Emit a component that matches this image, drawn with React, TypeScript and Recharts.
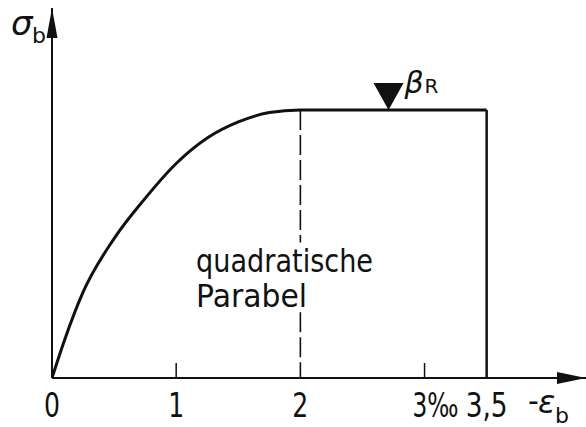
import React from 'react';
import { LineChart, Line, XAxis, YAxis, ReferenceLine, ReferenceDot } from 'recharts';

// Spannungs-Dehnungs-Linie (Parabel-Rechteck)
const STRAIN = [0, 0.1, 0.25, 0.5, 0.75, 1, 1.25, 1.5, 1.75, 2, 3.5];
const STRESS = [0, 0.14, 0.32, 0.52, 0.67, 0.8, 0.895, 0.955, 0.99, 1, 1];

const TICKS = [0, 1, 2, 3, 3.5];
const TICK_LABELS = ['0', '1', '2', '3‰', '3,5'];
const MARKED_TICKS = [1, 3];

const X_MAX = 4.3;
const Y_MAX = 1.38;
const EPS_PEAK = 2;
const EPS_ULT = 3.5;
const BETA_POS = 2.71;

const FONT = "'DejaVu Sans', 'Liberation Sans', sans-serif";
const INK = '#111';

const data = STRAIN.map((e, i) => ({ eps: e, sigma: STRESS[i] }));

// Schriftbreite an die schmale Normschrift der Vorlage anpassen
const labelWidth = (s: string) => (s.length === 1 ? 16 : s === '3‰' ? 46 : 42);

const AxisTick = (props: any) => {
  const { x, y, payload } = props;
  const idx = TICKS.indexOf(payload.value);
  const label = TICK_LABELS[idx];
  const isPermille = payload.value === 3;
  return (
    <g>
      {MARKED_TICKS.includes(payload.value) && (
        <line x1={x} x2={x} y1={y} y2={y - 15} stroke={INK} strokeWidth={1.5} />
      )}
      <text
        x={isPermille ? x - 12 : x}
        y={y + 39}
        textAnchor={isPermille ? 'start' : 'middle'}
        fontFamily={FONT}
        fontSize={33}
        fill={INK}
        textLength={labelWidth(label)}
        lengthAdjust="spacingAndGlyphs"
      >
        {label}
      </text>
    </g>
  );
};

const YArrow = (props: any) => {
  const { cx, cy } = props;
  return (
    <g>
      <polygon points={`${cx},${cy} ${cx - 5.5},${cy + 30} ${cx + 5.5},${cy + 30}`} fill={INK} />
      <text x={cx - 41} y={cy + 27} fontFamily={FONT} fontSize={34} fontStyle="italic" fill={INK}>
        σ
      </text>
      <text x={cx - 20} y={cy + 35} fontFamily={FONT} fontSize={22} fill={INK}>
        b
      </text>
    </g>
  );
};

const XArrow = (props: any) => {
  const { cx, cy } = props;
  return (
    <g>
      <polygon points={`${cx},${cy} ${cx - 29},${cy - 6} ${cx - 29},${cy + 6}`} fill={INK} />
      <text x={cx - 58} y={cy + 33} fontFamily={FONT} fontSize={30} fill={INK}>
        -
      </text>
      <text x={cx - 48} y={cy + 35} fontFamily={FONT} fontSize={32} fontStyle="italic" fill={INK}>
        ε
      </text>
      <text x={cx - 31} y={cy + 45} fontFamily={FONT} fontSize={22} fill={INK}>
        b
      </text>
    </g>
  );
};

const BetaMark = (props: any) => {
  const { cx, cy } = props;
  return (
    <g>
      <polygon points={`${cx},${cy} ${cx - 15},${cy - 27} ${cx + 15},${cy - 27}`} fill={INK} />
      <text x={cx + 16} y={cy - 17} fontFamily={FONT} fontSize={30} fontStyle="italic" fill={INK}>
        β
      </text>
      <text x={cx + 36} y={cy - 17} fontFamily={FONT} fontSize={20} fill={INK}>
        R
      </text>
    </g>
  );
};

const ParabelLabel = (props: any) => {
  const { cx, cy } = props;
  return (
    <g fontFamily={FONT} fill={INK}>
      <text x={cx} y={cy} fontSize={32} textLength={177} lengthAdjust="spacingAndGlyphs">
        quadratische
      </text>
      <text x={cx} y={cy + 35} fontSize={32} textLength={111} lengthAdjust="spacingAndGlyphs">
        Parabel
      </text>
    </g>
  );
};

export default function App() {
  return (
    <div style={{ position: 'absolute', left: 0, top: 0, width: 586, height: 427, background: '#fff' }}>
      <LineChart width={586} height={427} data={data} margin={{ top: 8, right: 0, bottom: 0, left: 52 }}>
        <XAxis
          type="number"
          dataKey="eps"
          domain={[0, X_MAX]}
          ticks={TICKS}
          tick={<AxisTick />}
          tickLine={false}
          tickSize={0}
          tickMargin={0}
          height={49}
          axisLine={{ stroke: INK, strokeWidth: 2 }}
          allowDataOverflow
        />
        <YAxis hide type="number" domain={[0, Y_MAX]} allowDataOverflow />
        <ReferenceLine segment={[{ x: 0, y: 0 }, { x: 0, y: Y_MAX }]} stroke={INK} strokeWidth={2} ifOverflow="visible" />
        <ReferenceLine
          segment={[{ x: EPS_PEAK, y: 1 }, { x: EPS_PEAK, y: 0.505 }]}
          stroke={INK}
          strokeWidth={1.6}
          strokeDasharray="20 5"
        />
        <ReferenceLine
          segment={[{ x: EPS_PEAK, y: 0.245 }, { x: EPS_PEAK, y: 0 }]}
          stroke={INK}
          strokeWidth={1.6}
          strokeDasharray="20 5"
        />
        <ReferenceLine segment={[{ x: EPS_ULT, y: 1 }, { x: EPS_ULT, y: 0 }]} stroke={INK} strokeWidth={2.5} />
        <Line
          type="monotone"
          dataKey="sigma"
          stroke={INK}
          strokeWidth={3}
          dot={false}
          activeDot={false}
          isAnimationActive={false}
        />
        <ReferenceDot x={0} y={Y_MAX} r={0} shape={<YArrow />} ifOverflow="visible" />
        <ReferenceDot x={X_MAX} y={0} r={0} shape={<XArrow />} ifOverflow="visible" />
        <ReferenceDot x={BETA_POS} y={1} r={0} shape={<BetaMark />} ifOverflow="visible" />
        <ReferenceDot x={1.16} y={0.395} r={0} shape={<ParabelLabel />} ifOverflow="visible" />
      </LineChart>
    </div>
  );
}
